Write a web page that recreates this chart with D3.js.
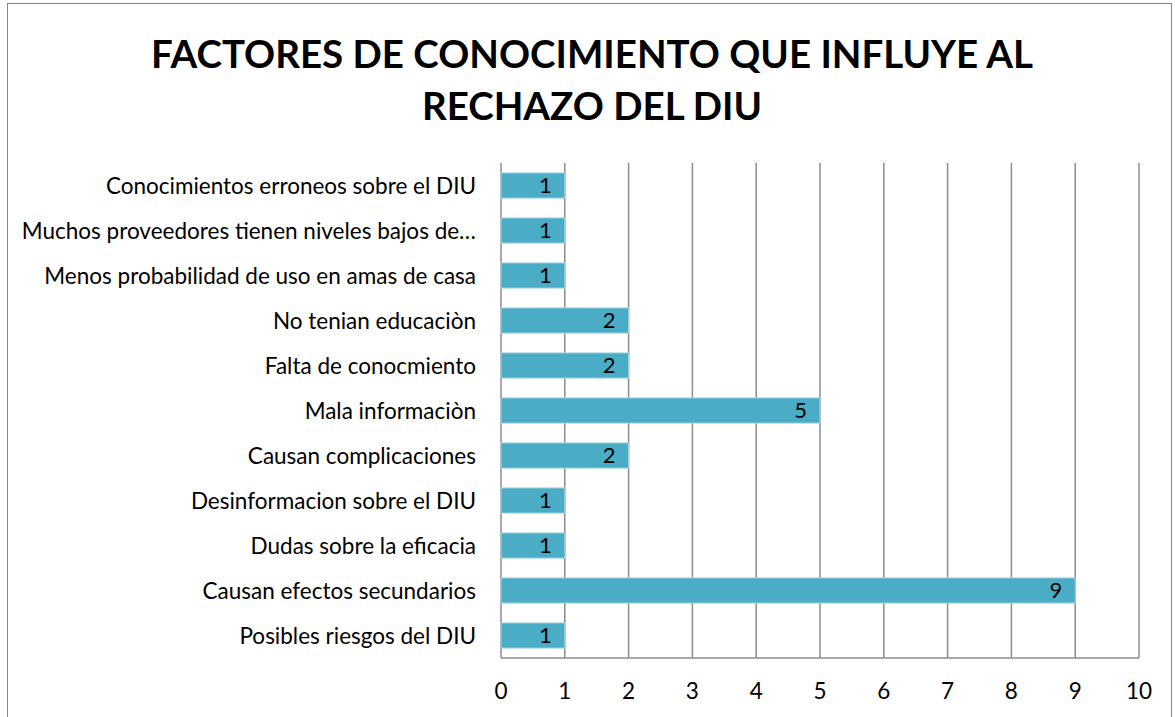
<!DOCTYPE html>
<html>
<head>
<meta charset="utf-8">
<script src="https://cdn.jsdelivr.net/npm/d3@7/dist/d3.min.js"></script>
<style>
  body { margin: 0; background: #fff; }
  text { font-family: Lato, "Open Sans", sans-serif; fill: #000; }
</style>
</head>
<body>
<div id="chart"></div>
<script>
// categories, top to bottom as shown
const categories = [
  "Conocimientos erroneos sobre el DIU",
  "Muchos proveedores tienen niveles bajos de…",
  "Menos probabilidad de uso en amas de casa",
  "No tenian educaciòn",
  "Falta de conocmiento",
  "Mala informaciòn",
  "Causan complicaciones",
  "Desinformacion sobre el DIU",
  "Dudas sobre la eficacia",
  "Causan efectos secundarios",
  "Posibles riesgos del DIU"
];
const values = [1, 1, 1, 2, 2, 5, 2, 1, 1, 9, 1];
const xTicks = [0, 1, 2, 3, 4, 5, 6, 7, 8, 9, 10];
const titleLines = ["FACTORES DE CONOCIMIENTO QUE INFLUYE AL", "RECHAZO DEL DIU"];

const width = 1175, height = 717;
const margin = {top: 163, right: 36, bottom: 59, left: 501};

let svg = d3.select("#chart").append("svg")
  .attr("width", width)
  .attr("height", height);

// outer frame
svg.append("rect")
  .attr("x", 7.5).attr("y", 3.5)
  .attr("width", 1164).attr("height", 730)
  .attr("fill", "none")
  .attr("stroke", "#868686")
  .attr("stroke-width", 1);

// title
svg.append("g").selectAll("text")
  .data(titleLines)
  .join("text")
  .attr("x", 592)
  .attr("y", (d, i) => 68 + i * 52)
  .attr("text-anchor", "middle")
  .attr("font-size", "38.5px")
  .attr("font-weight", "bold")
  .text(d => d);

let x = d3.scaleLinear().domain([0, 10]).range([margin.left, width - margin.right]);
let y = d3.scaleBand().domain(categories)
  .range([margin.top, height - margin.bottom])
  .paddingInner(0.44).paddingOuter(0.22);

// gridlines
svg.append("g").selectAll("line")
  .data(xTicks)
  .join("line")
  .attr("x1", d => x(d)).attr("x2", d => x(d))
  .attr("y1", margin.top).attr("y2", height - margin.bottom)
  .attr("stroke", "#8c8c8c")
  .attr("stroke-width", 1.5);

// bars
svg.append("g").selectAll("rect")
  .data(values)
  .join("rect")
  .attr("x", x(0))
  .attr("y", (d, i) => y(categories[i]))
  .attr("width", d => x(d) - x(0))
  .attr("height", y.bandwidth())
  .attr("fill", "#4BACC6")
  .attr("stroke", "#a8d8e4")
  .attr("stroke-width", 1);

// value labels
svg.append("g").selectAll("text")
  .data(values)
  .join("text")
  .attr("x", d => x(d) - 13)
  .attr("y", (d, i) => y(categories[i]) + y.bandwidth() / 2)
  .attr("dy", "0.36em")
  .attr("text-anchor", "end")
  .attr("font-size", "22px")
  .text(d => d);

// x axis line
svg.append("line")
  .attr("x1", x(0)).attr("x2", x(10))
  .attr("y1", height - margin.bottom).attr("y2", height - margin.bottom)
  .attr("stroke", "#8c8c8c")
  .attr("stroke-width", 1.5);

// x tick labels
svg.append("g").selectAll("text")
  .data(xTicks)
  .join("text")
  .attr("x", d => x(d))
  .attr("y", 699)
  .attr("text-anchor", "middle")
  .attr("font-size", "22.5px")
  .text(d => d);

// category labels
svg.append("g").selectAll("text")
  .data(categories)
  .join("text")
  .attr("x", 476)
  .attr("y", d => y(d) + y.bandwidth() / 2)
  .attr("dy", "0.36em")
  .attr("text-anchor", "end")
  .attr("font-size", "22.5px")
  .text(d => d);
</script>
</body>
</html>
